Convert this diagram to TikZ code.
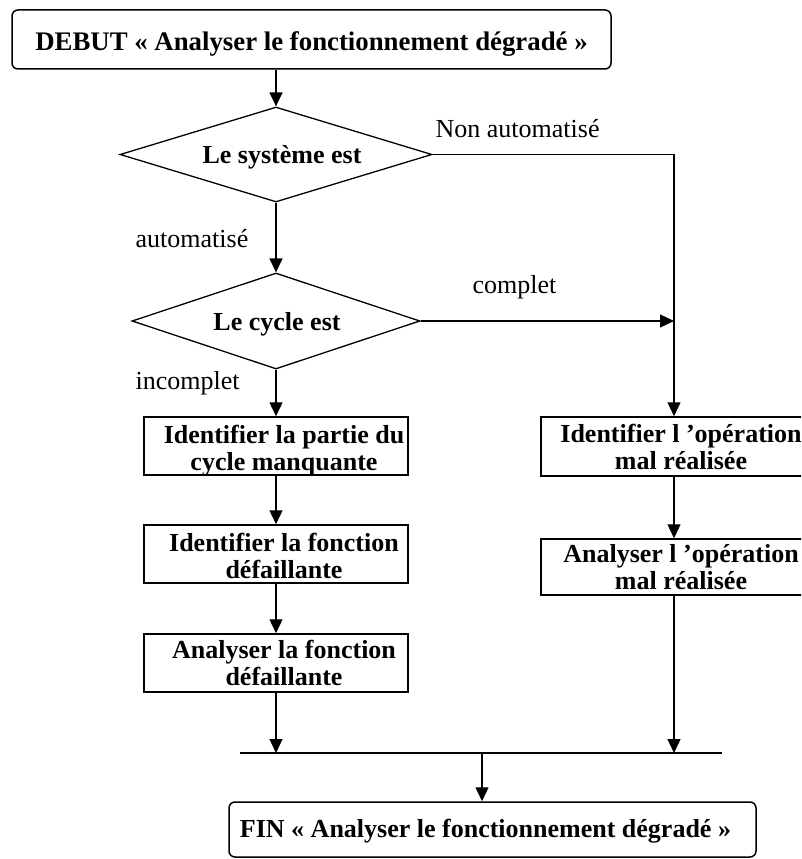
\documentclass[tikz,border=0pt]{standalone}
\usepackage{fontspec}
\setmainfont{Liberation Serif}
\usetikzlibrary{shapes.geometric,arrows.meta}
\begin{document}
\begin{tikzpicture}[x=1pt,y=-1pt,
  line width=1.3pt,
  every node/.style={font=\fontsize{26}{27}\selectfont, inner sep=0pt},
  flow/.style={-{Triangle[length=14pt,width=13pt]}},
  txt/.style={font=\fontsize{26}{27}\selectfont\bfseries, align=center},
  lbl/.style={anchor=base west},
  stepbox/.style={draw, line width=1.5pt, rectangle, minimum width=264pt, minimum height=58pt},
  endbox/.style={draw, line width=1.5pt, rectangle, rounded corners=6pt},
  test/.style={draw, diamond, shape aspect=3.2}]
\useasboundingbox (0,0) rectangle (801,859);
\clip (0,0) rectangle (801,859);

% start / end terminals
\node[endbox, minimum width=599pt, minimum height=59pt] (debut) at (311.5,39.5) {};
\node[txt, font=\fontsize{26.8}{27}\selectfont\bfseries] (debutT) at (311.5,44) {DEBUT « Analyser le fonctionnement dégradé »};
\node[endbox, minimum width=527pt, minimum height=55pt] (fin) at (492.5,829.5) {};
\node[txt] (finT) at (485.5,831) {FIN « Analyser le fonctionnement dégradé »};

% decisions
\node[test, minimum width=312pt, minimum height=95pt] (d1) at (276,154.5) {};
\node[txt] (d1T) at (282,157) {Le système est};
\node[test, minimum width=288pt, minimum height=96pt] (d2) at (276,321) {};
\node[txt] (d2T) at (277,324) {Le cycle est};

% left branch: incomplete cycle
\node[stepbox] (l1) at (276,446) {};
\node[txt] (l1T) at (284,450.4) {Identifier la partie du\\cycle manquante};
\node[stepbox] (l2) at (276,554) {};
\node[txt] (l2T) at (284,556) {Identifier la fonction\\défaillante};
\node[stepbox] (l3) at (276,663) {};
\node[txt] (l3T) at (284,663) {Analyser la fonction\\défaillante};

% right branch: badly executed operation
\node[stepbox, minimum width=266pt, minimum height=59pt] (r1) at (674,446.5) {};
\node[txt] (r1T) at (681,447) {Identifier l ’opération\\mal réalisée};
\node[stepbox, minimum width=266pt, minimum height=56pt] (r2) at (674,567) {};
\node[txt] (r2T) at (681,567) {Analyser l ’opération\\mal réalisée};

% branch labels
\node[lbl] (nonauto) at (435,137) {Non automatisé};
\node[lbl] (auto) at (135,247) {automatisé};
\node[lbl] (compl) at (472,293) {complet};
\node[lbl] (incompl) at (135,389) {incomplet};

% merge bar
\coordinate (mL) at (240,753);
\coordinate (mR) at (722,753);
\coordinate (mC) at (482,753);
\coordinate (cJoin) at (r1.north |- d2.east);

% connectors
\draw[flow] (d1.north |- debut.south) -- (d1.north);
\draw[flow] (d1.east) -| (r1.north);
\draw[flow] (d1.south) -- (d2.north);
\draw[flow] (d2.east) -- (cJoin);
\draw[flow] (d2.south) -- (l1.north);
\draw[flow] (l1.south) -- (l2.north);
\draw[flow] (l2.south) -- (l3.north);
\draw[flow] (r1.south) -- (r2.north);
\draw[flow] (l3.south) -- (l3.south |- mL);
\draw[flow] (r2.south) -- (r2.south |- mL);
\draw (mL) -- (mR);
\draw[flow] (mC) -- (mC |- fin.north);
\end{tikzpicture}
\end{document}
